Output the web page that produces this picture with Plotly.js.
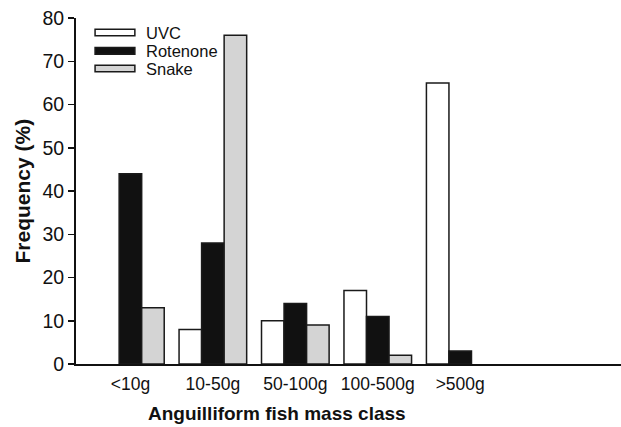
<!DOCTYPE html>
<html>
<head>
<meta charset="utf-8">
<script src="https://cdn.plot.ly/plotly-3.0.1.min.js"></script>
<style>html,body{margin:0;padding:0;background:#fff;}#chart{width:621px;height:427px;}</style>
</head>
<body>
<div id="chart"></div>
<script>
const categories = ["<10g", "10-50g", "50-100g", "100-500g", ">500g"];
const seriesNames = ["UVC", "Rotenone", "Snake"];
const uvc = [null, 8, 10, 17, 65];
const rotenone = [44, 28, 14, 11, 3];
const snake = [13, 76, 9, 2, null];
const fills = ["#ffffff", "#111111", "#d4d4d4"];
const xTitle = "Anguilliform fish mass class";
const yTitle = "Frequency (%)";

const FONT = "Liberation Sans, Arial, Helvetica, sans-serif";
const values = [uvc, rotenone, snake];

const traces = values.map((v, i) => ({
  type: "bar",
  name: seriesNames[i],
  x: categories,
  y: v,
  marker: {color: fills[i], line: {color: "#1a1a1a", width: 1.5}},
  showlegend: false,
  hoverinfo: "x+y+name"
}));

// custom legend: wide boxes, as in the reference
const shapes = [];
const annotations = [];
const legY = [0.958, 0.905, 0.854];
seriesNames.forEach((n, i) => {
  shapes.push({type: "rect", xref: "paper", yref: "paper",
    x0: 0.035, x1: 0.108, y0: legY[i] - 0.0095, y1: legY[i] + 0.0095,
    fillcolor: fills[i], line: {color: "#1a1a1a", width: 1.5}});
  annotations.push({xref: "paper", yref: "paper", x: 0.124, y: legY[i],
    xanchor: "left", yanchor: "middle", text: n, showarrow: false,
    font: {family: FONT, size: 16.5, color: "#111"}});
});

annotations.push({xref: "paper", yref: "paper", x: 0.369, y: -0.142,
  xanchor: "center", yanchor: "middle", showarrow: false,
  text: "<b>" + xTitle + "</b>", font: {family: FONT, size: 19, color: "#111"}});
annotations.push({xref: "paper", yref: "paper", x: -0.1, y: 0.5,
  xanchor: "center", yanchor: "middle", showarrow: false, textangle: -90,
  text: "<b>" + yTitle + "</b>", font: {family: FONT, size: 21, color: "#111"}});

const layout = {
  width: 621, height: 427,
  margin: {l: 76, r: 0, t: 18, b: 63},
  paper_bgcolor: "#fff", plot_bgcolor: "#fff",
  barmode: "group", bargap: 0.18, bargroupgap: 0,
  font: {family: FONT, color: "#111"},
  xaxis: {
    type: "category",
    range: [-0.66, 5.95],
    showline: true, linecolor: "#111", linewidth: 2,
    ticks: "", showgrid: false, zeroline: false,
    ticklabelstandoff: 3,
    tickfont: {family: FONT, size: 17.5, color: "#111"}
  },
  yaxis: {
    range: [0, 80], dtick: 10,
    showline: true, linecolor: "#111", linewidth: 2,
    ticks: "outside", ticklen: 6, tickwidth: 1.5, tickcolor: "#111",
    showgrid: false, zeroline: false,
    tickfont: {family: FONT, size: 19.5, color: "#111"}
  },
  shapes: shapes,
  annotations: annotations
};

Plotly.newPlot("chart", traces, layout, {displayModeBar: false, staticPlot: true});
</script>
</body>
</html>
